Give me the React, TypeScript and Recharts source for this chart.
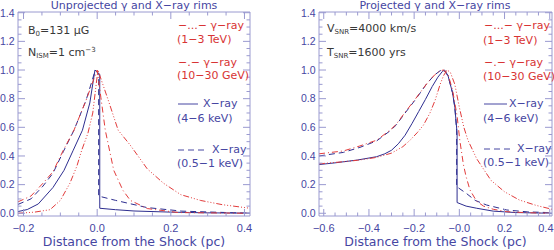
import React from 'react';
import { LineChart, Line, XAxis, YAxis } from 'recharts';

const FONT = '"DejaVu Sans", sans-serif';
const TICK_FONT = '"Liberation Sans", sans-serif';
const FRAME = '#9a9ad0';
const NAVY = '#4646a2';
const INK = '#383838';
const RED = '#d83434';
const BLUE_LINE = '#2e2e90';
const RED_LINE = '#e23c3c';
const PANEL_W = 277;

// ---- ticks ----
const yTicks = [0, 0.05, 0.1, 0.15, 0.2, 0.25, 0.3, 0.35, 0.4, 0.45, 0.5, 0.55, 0.6, 0.65, 0.7, 0.75, 0.8, 0.85, 0.9, 0.95, 1.0, 1.05, 1.1, 1.15, 1.2, 1.25, 1.3, 1.35, 1.4];
const yMajor = [0, 0.2, 0.4, 0.6, 0.8, 1.0, 1.2, 1.4];
const yLabels = ['0.0', '0.2', '0.4', '0.6', '0.8', '1.0', '1.2', '1.4'];

const unprojXTicks = [-0.2, -0.15, -0.1, -0.05, 0, 0.05, 0.1, 0.15, 0.2, 0.25, 0.3, 0.35, 0.4];
const unprojXMajor = [-0.2, 0, 0.2, 0.4];
const unprojXLabels = ['−0.2', '0.0', '0.2', '0.4'];

const projXTicks = [-0.6, -0.55, -0.5, -0.45, -0.4, -0.35, -0.3, -0.25, -0.2, -0.15, -0.1, -0.05, 0, 0.05, 0.1, 0.15, 0.2, 0.25, 0.3, 0.35, 0.4];
const projXMajor = [-0.6, -0.4, -0.2, 0, 0.2, 0.4];
const projXLabels = ['−0.6', '−0.4', '−0.2', '−0.0', '0.2', '0.4'];

// ---- unprojected profiles (distance pc, normalised intensity) ----
const unprojXHard = [
  { d: -0.215, v: 0.012 }, { d: -0.19, v: 0.026 }, { d: -0.16, v: 0.065 }, { d: -0.12, v: 0.18 },
  { d: -0.09, v: 0.3 }, { d: -0.065, v: 0.44 }, { d: -0.04, v: 0.58 }, { d: -0.02, v: 0.77 },
  { d: -0.006, v: 1.0 }, { d: 0.007, v: 0.97 }, { d: 0.007, v: 0.035 }, { d: 0.05, v: 0.025 },
  { d: 0.1, v: 0.016 }, { d: 0.2, v: 0.008 }, { d: 0.3, v: 0.003 }, { d: 0.415, v: 0.001 },
];
const unprojXSoft = [
  { d: -0.215, v: 0.062 }, { d: -0.18, v: 0.1 }, { d: -0.147, v: 0.19 }, { d: -0.12, v: 0.28 },
  { d: -0.092, v: 0.43 }, { d: -0.063, v: 0.58 }, { d: -0.03, v: 0.79 }, { d: -0.005, v: 1.0 },
  { d: 0.004, v: 0.97 }, { d: 0.004, v: 0.12 }, { d: 0.05, v: 0.09 }, { d: 0.135, v: 0.04 },
  { d: 0.23, v: 0.015 }, { d: 0.415, v: 0.0 },
];
const unprojGeV = [
  { d: -0.215, v: 0.08 }, { d: -0.18, v: 0.12 }, { d: -0.147, v: 0.21 }, { d: -0.12, v: 0.29 },
  { d: -0.092, v: 0.44 }, { d: -0.063, v: 0.58 }, { d: -0.03, v: 0.79 }, { d: 0.0, v: 1.0 },
  { d: 0.01, v: 0.81 }, { d: 0.022, v: 0.58 }, { d: 0.045, v: 0.3 }, { d: 0.07, v: 0.16 },
  { d: 0.09, v: 0.09 }, { d: 0.136, v: 0.033 }, { d: 0.22, v: 0.005 }, { d: 0.415, v: 0.0 },
];
const unprojTeV = [
  { d: -0.215, v: 0.0 }, { d: -0.17, v: 0.008 }, { d: -0.128, v: 0.025 }, { d: -0.1, v: 0.09 },
  { d: -0.074, v: 0.21 }, { d: -0.055, v: 0.33 }, { d: -0.042, v: 0.44 }, { d: -0.025, v: 0.56 },
  { d: -0.012, v: 0.7 }, { d: 0.002, v: 1.0 }, { d: 0.03, v: 0.79 }, { d: 0.057, v: 0.58 },
  { d: 0.09, v: 0.475 }, { d: 0.136, v: 0.31 }, { d: 0.18, v: 0.21 }, { d: 0.227, v: 0.13 },
  { d: 0.28, v: 0.09 }, { d: 0.34, v: 0.06 }, { d: 0.415, v: 0.035 },
];

// ---- projected profiles ----
const projXHard = [
  { d: -0.621, v: 0.34 }, { d: -0.55, v: 0.352 }, { d: -0.45, v: 0.372 }, { d: -0.366, v: 0.395 },
  { d: -0.33, v: 0.415 }, { d: -0.3, v: 0.44 }, { d: -0.27, v: 0.485 }, { d: -0.24, v: 0.545 },
  { d: -0.21, v: 0.625 }, { d: -0.18, v: 0.71 }, { d: -0.15, v: 0.795 }, { d: -0.12, v: 0.885 },
  { d: -0.095, v: 0.95 }, { d: -0.075, v: 0.99 }, { d: -0.065, v: 1.0 }, { d: -0.05, v: 0.96 },
  { d: -0.03, v: 0.84 }, { d: -0.02, v: 0.74 }, { d: -0.01, v: 0.56 }, { d: -0.01, v: 0.075 },
  { d: 0.03, v: 0.05 }, { d: 0.077, v: 0.035 }, { d: 0.15, v: 0.015 }, { d: 0.25, v: 0.005 },
  { d: 0.41, v: 0.0 },
];
const projXSoft = [
  { d: -0.621, v: 0.4 }, { d: -0.513, v: 0.425 }, { d: -0.44, v: 0.46 }, { d: -0.366, v: 0.505 },
  { d: -0.307, v: 0.575 }, { d: -0.28, v: 0.615 }, { d: -0.24, v: 0.7 }, { d: -0.196, v: 0.79 },
  { d: -0.144, v: 0.905 }, { d: -0.11, v: 0.965 }, { d: -0.085, v: 0.995 }, { d: -0.07, v: 1.0 },
  { d: -0.05, v: 0.96 }, { d: -0.03, v: 0.84 }, { d: -0.02, v: 0.74 }, { d: -0.012, v: 0.58 },
  { d: -0.012, v: 0.186 }, { d: 0.03, v: 0.14 }, { d: 0.07, v: 0.09 }, { d: 0.12, v: 0.058 },
  { d: 0.21, v: 0.023 }, { d: 0.3, v: 0.01 }, { d: 0.41, v: 0.004 },
];
const projGeV = [
  { d: -0.621, v: 0.415 }, { d: -0.513, v: 0.435 }, { d: -0.44, v: 0.47 }, { d: -0.366, v: 0.51 },
  { d: -0.307, v: 0.58 }, { d: -0.28, v: 0.62 }, { d: -0.24, v: 0.705 }, { d: -0.196, v: 0.795 },
  { d: -0.144, v: 0.905 }, { d: -0.11, v: 0.965 }, { d: -0.085, v: 0.995 }, { d: -0.07, v: 1.0 },
  { d: -0.05, v: 0.97 }, { d: -0.03, v: 0.86 }, { d: -0.01, v: 0.68 }, { d: 0.002, v: 0.51 },
  { d: 0.018, v: 0.34 }, { d: 0.03, v: 0.255 }, { d: 0.047, v: 0.163 }, { d: 0.076, v: 0.085 },
  { d: 0.107, v: 0.05 }, { d: 0.15, v: 0.028 }, { d: 0.21, v: 0.011 }, { d: 0.3, v: 0.004 },
  { d: 0.41, v: 0.0 },
];
const projTeV = [
  { d: -0.621, v: 0.345 }, { d: -0.513, v: 0.36 }, { d: -0.45, v: 0.37 }, { d: -0.366, v: 0.39 },
  { d: -0.3, v: 0.42 }, { d: -0.25, v: 0.465 }, { d: -0.218, v: 0.51 }, { d: -0.185, v: 0.565 },
  { d: -0.159, v: 0.615 }, { d: -0.13, v: 0.7 }, { d: -0.107, v: 0.79 }, { d: -0.085, v: 0.9 },
  { d: -0.07, v: 0.96 }, { d: -0.055, v: 1.0 }, { d: -0.04, v: 0.985 }, { d: -0.02, v: 0.9 },
  { d: 0.0, v: 0.74 }, { d: 0.02, v: 0.6 }, { d: 0.038, v: 0.51 }, { d: 0.077, v: 0.38 },
  { d: 0.14, v: 0.23 }, { d: 0.2, v: 0.15 }, { d: 0.265, v: 0.093 }, { d: 0.34, v: 0.055 },
  { d: 0.41, v: 0.028 },
];

const STYLE = {
  tev: { stroke: RED_LINE, dash: '6 2 1 2 1 2 1 2' },
  gev: { stroke: RED_LINE, dash: '6 3 1 3' },
  hard: { stroke: BLUE_LINE, dash: undefined },
  soft: { stroke: BLUE_LINE, dash: '6 4' },
};

// IDL-style tick: drawn inward, label only on bottom / left
const FrameTick = (props: any) => {
  const { x, y, payload, side, majors, labels } = props;
  const idx = majors.findIndex((m: number) => Math.abs(m - payload.value) < 1e-6);
  const len = idx >= 0 ? 7 : 3.5;
  const label = labels && idx >= 0 ? labels[idx] : null;
  const common = { stroke: FRAME, strokeWidth: 1 };
  if (side === 'bottom') {
    // keep the last label inside the panel
    const atEdge = x > PANEL_W - 9;
    return (
      <g>
        <line x1={x} y1={y} x2={x} y2={y - len} {...common} />
        {label && (
          <text x={atEdge ? PANEL_W - 0.5 : x} y={y + 16} textAnchor={atEdge ? 'end' : 'middle'}
            fill={NAVY} fontSize={11} fontFamily={TICK_FONT}>{label}</text>
        )}
      </g>
    );
  }
  if (side === 'top') return <line x1={x} y1={y} x2={x} y2={y + len} {...common} />;
  if (side === 'left') {
    return (
      <g>
        <line x1={x} y1={y} x2={x + len} y2={y} {...common} />
        {label && (
          <text x={x - 3.5} y={y + 3.8} textAnchor="end" fill={NAVY} fontSize={10.5} fontFamily={TICK_FONT}>{label}</text>
        )}
      </g>
    );
  }
  return <line x1={x} y1={y} x2={x - len} y2={y} {...common} />;
};

type Series = { key: string; data: { d: number; v: number }[]; kind: keyof typeof STYLE };

const Panel = ({ xDomain, xTicks, xMajor, xLabels, leftW, rightW, series }: {
  xDomain: [number, number]; xTicks: number[]; xMajor: number[]; xLabels: string[];
  leftW: number; rightW: number; series: Series[];
}) => {
  const yDomain: [number, number] = [-0.019, 1.405];
  const axisLine = { stroke: FRAME, strokeWidth: 1 };
  return (
    <LineChart width={PANEL_W} height={250} margin={{ top: 0, right: 0, bottom: 0, left: 0 }}>
      <XAxis xAxisId="b" dataKey="d" type="number" domain={xDomain} allowDataOverflow ticks={xTicks}
        interval={0} height={34} tickLine={false} tickSize={0} tickMargin={0} axisLine={axisLine}
        tick={<FrameTick side="bottom" majors={xMajor} labels={xLabels} />}
        label={{ value: 'Distance from the Shock (pc)', position: 'insideBottom', offset: 4, fill: NAVY, fontSize: 12.5, fontFamily: FONT }} />
      <XAxis xAxisId="t" orientation="top" dataKey="d" type="number" domain={xDomain} allowDataOverflow ticks={xTicks}
        interval={0} height={12} tickLine={false} tickSize={0} tickMargin={0} axisLine={axisLine}
        tick={<FrameTick side="top" majors={xMajor} />} />
      <YAxis yAxisId="l" type="number" domain={yDomain} allowDataOverflow ticks={yTicks} interval={0}
        width={leftW} tickLine={false} tickSize={0} tickMargin={0} axisLine={axisLine}
        tick={<FrameTick side="left" majors={yMajor} labels={yLabels} />} />
      <YAxis yAxisId="r" orientation="right" type="number" domain={yDomain} allowDataOverflow ticks={yTicks} interval={0}
        width={rightW} tickLine={false} tickSize={0} tickMargin={0} axisLine={axisLine}
        tick={<FrameTick side="right" majors={yMajor} />} />
      {series.map((s) => (
        <Line key={s.key} xAxisId="b" yAxisId="l" data={s.data} dataKey="v" type="linear"
          stroke={STYLE[s.kind].stroke} strokeDasharray={STYLE[s.kind].dash} strokeWidth={1}
          dot={false} activeDot={false} isAnimationActive={false} />
      ))}
    </LineChart>
  );
};

const Legend = ({ x, lineEnd, dashEnd, xrayX1, xrayX2, rows }: {
  x: number; lineEnd: number; dashEnd: number; xrayX1: number; xrayX2: number; rows: number[];
}) => (
  <g fontFamily={FONT} fontSize={11}>
    <text x={x} y={rows[0]} fill={RED}>−...− γ−ray</text>
    <text x={x - 1} y={rows[1]} fill={RED}>(1−3 TeV)</text>
    <text x={x} y={rows[2]} fill={RED}>−.− γ−ray</text>
    <text x={x - 1} y={rows[3]} fill={RED}>(10−30 GeV)</text>
    <line x1={x} x2={lineEnd} y1={rows[4] - 3} y2={rows[4] - 3} stroke={NAVY} strokeWidth={1} />
    <text x={xrayX1} y={rows[4]} fill={NAVY}>X−ray</text>
    <text x={x - 1} y={rows[5]} fill={NAVY}>(4−6 keV)</text>
    <line x1={x} x2={dashEnd} y1={rows[6] - 3} y2={rows[6] - 3} stroke={NAVY} strokeWidth={1} strokeDasharray="6 4" />
    <text x={xrayX2} y={rows[6]} fill={NAVY}>X−ray</text>
    <text x={x - 1} y={rows[7]} fill={NAVY}>(0.5−1 keV)</text>
  </g>
);

export default function App() {
  return (
    <div style={{ position: 'absolute', left: 0, top: 0, width: 554, height: 250, background: '#fff' }}>
      <div style={{ position: 'absolute', left: 0, top: 0 }}>
        <Panel xDomain={[-0.215, 0.415]} xTicks={unprojXTicks} xMajor={unprojXMajor} xLabels={unprojXLabels}
          leftW={18} rightW={27}
          series={[
            { key: 'hard', data: unprojXHard, kind: 'hard' },
            { key: 'soft', data: unprojXSoft, kind: 'soft' },
            { key: 'gev', data: unprojGeV, kind: 'gev' },
            { key: 'tev', data: unprojTeV, kind: 'tev' },
          ]} />
      </div>
      <div style={{ position: 'absolute', left: 277, top: 0 }}>
        <Panel xDomain={[-0.621, 0.41]} xTicks={projXTicks} xMajor={projXMajor} xLabels={projXLabels}
          leftW={42} rightW={2}
          series={[
            { key: 'hard', data: projXHard, kind: 'hard' },
            { key: 'soft', data: projXSoft, kind: 'soft' },
            { key: 'gev', data: projGeV, kind: 'gev' },
            { key: 'tev', data: projTeV, kind: 'tev' },
          ]} />
      </div>
      <svg width={554} height={250} style={{ position: 'absolute', left: 0, top: 0, pointerEvents: 'none' }}>
        <g fontFamily={FONT} fontSize={11} fill={NAVY} textAnchor="middle">
          <text x={134} y={8.5}>Unprojected γ and X−ray rims</text>
          <text x={435} y={8.5}>Projected γ and X−ray rims</text>
        </g>
        <g fontFamily={FONT} fontSize={11} fill={INK}>
          <text x={28} y={34}>B<tspan fontSize={7} dy={2}>0</tspan><tspan dy={-2}>=131  μG</tspan></text>
          <text x={28} y={56}>N<tspan fontSize={7} dy={2}>ISM</tspan><tspan dy={-2}>=1  cm</tspan><tspan fontSize={7} dy={-4}>−3</tspan></text>
          <text x={327} y={32}>V<tspan fontSize={7} dy={2}>SNR</tspan><tspan dy={-2}>=4000  km/s</tspan></text>
          <text x={327} y={56}>T<tspan fontSize={7} dy={2}>SNR</tspan><tspan dy={-2}>=1600  yrs</tspan></text>
        </g>
        <Legend x={178} lineEnd={198} dashEnd={207} xrayX1={203} xrayX2={212} rows={[29, 43, 66, 79, 107, 122, 153, 167]} />
        <Legend x={484} lineEnd={507} dashEnd={510} xrayX1={509} xrayX2={517} rows={[29, 44, 66, 80, 107, 122, 152, 166]} />
      </svg>
    </div>
  );
}
